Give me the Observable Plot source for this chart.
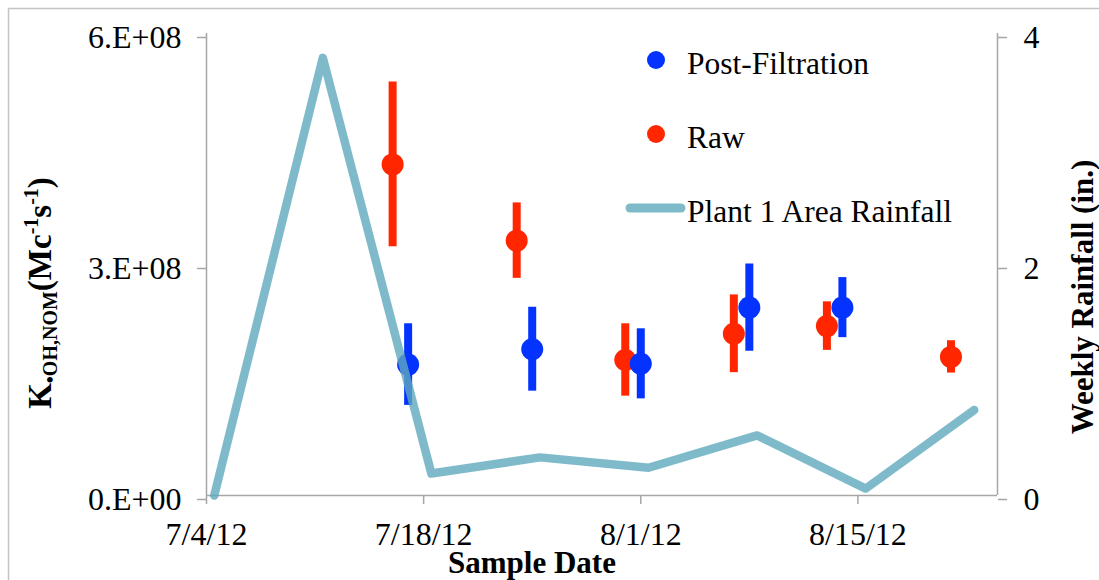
<!DOCTYPE html>
<html>
<head>
<meta charset="utf-8">
<script src="https://cdn.jsdelivr.net/npm/d3@7"></script>
<script src="https://cdn.jsdelivr.net/npm/@observablehq/plot@0.6"></script>
<style>
  html, body { margin: 0; padding: 0; background: #fff; overflow: hidden; }
  #chart { position: relative; width: 1099px; height: 580px; }
</style>
</head>
<body>
<div id="chart"></div>
<script>
const day = (m, d) => new Date(Date.UTC(2012, m - 1, d));

// Raw water samples: K(OH,NOM) and ± error
const rawDates = [day(7, 16), day(7, 24), day(7, 31), day(8, 7), day(8, 13), day(8, 21)];
const rawK     = [4.30e8, 3.31e8, 1.76e8, 2.10e8, 2.20e8, 1.80e8];
const rawErr   = [1.07e8, 0.49e8, 0.47e8, 0.505e8, 0.315e8, 0.21e8];

// Post-filtration samples
const postDates = [day(7, 17), day(7, 25), day(8, 1), day(8, 8), day(8, 14)];
const postK     = [1.70e8, 1.90e8, 1.71e8, 2.44e8, 2.44e8];
const postErr   = [0.53e8, 0.545e8, 0.455e8, 0.565e8, 0.39e8];

// Weekly rainfall around Plant 1 (inches)
const rainDates  = [day(7, 4), day(7, 11), day(7, 18), day(7, 25), day(8, 1), day(8, 8), day(8, 15), day(8, 22)];
const rainInches = [0, 3.79, 0.19, 0.33, 0.24, 0.52, 0.06, 0.74];

// Axis ticks and labels
const xTicks      = [day(7, 4), day(7, 18), day(8, 1), day(8, 15)];
const xTickLabels = ["7/4/12", "7/18/12", "8/1/12", "8/15/12"];
const kTicks      = [0, 3e8, 6e8];
const kTickLabels = ["0.E+00", "3.E+08", "6.E+08"];
const rainTicks   = [0, 2, 4];

const xDomain = [day(7, 4), day(8, 24)];
const kDomain = [0, 6e8];
const RAIN_TO_K = kDomain[1] / rainTicks[rainTicks.length - 1]; // 4 in. ↔ 6e8

const RED = "#ff2600", BLUE = "#0433ff", RAIN = "#5fa9be", AXIS = "#a6a6a6";

const raw  = rawDates.map((date, i) => ({date, k: rawK[i], err: rawErr[i]}));
const post = postDates.map((date, i) => ({date, k: postK[i], err: postErr[i]}));
const rain = rainDates.map((date, i) => ({date, inches: rainInches[i]}));

const xLabel = new Map(xTicks.map((d, i) => [+d, xTickLabels[i]]));
const kLabel = new Map(kTicks.map((d, i) => [d, kTickLabels[i]]));

// weekly totals sit mid-day on the date axis
const midDay = d => new Date(+d.date + 12 * 3600e3);

const chart = Plot.plot({
  width: 1099,
  height: 580,
  marginLeft: 206,
  marginRight: 102,
  marginTop: 33,
  marginBottom: 85,
  style: {fontFamily: "'Liberation Serif', 'Times New Roman', serif", fontSize: "32px", color: "#000", background: "#fff", overflow: "visible"},
  x: {type: "utc", domain: xDomain},
  y: {domain: kDomain},
  marks: [
    // axis lines
    Plot.ruleY([0], {stroke: AXIS, strokeWidth: 1.5}),
    Plot.ruleX([xDomain[0]], {y1: kDomain[0], y2: kDomain[1], stroke: AXIS, strokeWidth: 1.5}),
    Plot.ruleX([xDomain[1]], {y1: kDomain[0], y2: kDomain[1], stroke: AXIS, strokeWidth: 1.5}),
    Plot.axisX(xTicks, {anchor: "bottom", tickFormat: d => xLabel.get(+d), tickSize: 9, tickPadding: 18, stroke: AXIS, strokeWidth: 1.5, fill: "#000", label: null}),
    Plot.axisY(kTicks, {anchor: "left", tickFormat: d => kLabel.get(d), tickSize: 9, tickPadding: 16, dy: 4, stroke: AXIS, strokeWidth: 1.5, fill: "#000", label: null}),
    Plot.axisY(rainTicks.map(r => r * RAIN_TO_K), {anchor: "right", tickFormat: d => String(Math.round(d / RAIN_TO_K)), tickSize: 9, tickPadding: 17, dy: 4, stroke: AXIS, strokeWidth: 1.5, fill: "#000", label: null}),

    // error bars and sample means
    Plot.ruleX(raw, {x: "date", y1: d => d.k - d.err, y2: d => d.k + d.err, stroke: RED, strokeWidth: 8}),
    Plot.dot(raw, {x: "date", y: "k", r: 11, fill: RED, ariaLabel: "raw-dot"}),
    Plot.ruleX(post, {x: "date", y1: d => d.k - d.err, y2: d => d.k + d.err, stroke: BLUE, strokeWidth: 8}),
    Plot.dot(post, {x: "date", y: "k", r: 11, fill: BLUE, ariaLabel: "post-dot"}),

    // rainfall on the secondary axis
    Plot.line(rain, {x: midDay, y: d => d.inches * RAIN_TO_K, stroke: RAIN, strokeWidth: 8.5, strokeOpacity: 0.8, strokeLinejoin: "round", strokeLinecap: "round"})
  ]
});

document.getElementById("chart").append(chart);

const svg = d3.select(chart);
svg.selectAll('g[aria-label="raw-dot"], g[aria-label="post-dot"]')
  .style("filter", "drop-shadow(2px 3px 2px rgba(0,0,0,0.35))");

// outer chart border
svg.insert("rect", ":first-child")
  .attr("x", 8.5).attr("y", 8.5).attr("width", 1200).attr("height", 1000)
  .attr("fill", "none").attr("stroke", "#c4c4c4").attr("stroke-width", 1.5);

// axis titles
const bold = sel => sel.attr("font-weight", "bold").attr("font-size", 31).attr("fill", "#000");

svg.append("text").call(bold)
  .attr("x", 532).attr("y", 573).attr("text-anchor", "middle")
  .text("Sample Date");

svg.append("text").call(bold)
  .attr("transform", "translate(1093,297) rotate(-90)").attr("text-anchor", "middle")
  .text("Weekly Rainfall (in.)");

const kTitle = svg.append("text").call(bold).attr("font-size", 33)
  .attr("transform", "translate(51,293) rotate(-90)").attr("text-anchor", "middle");
kTitle.append("tspan").text("K");
kTitle.append("tspan").attr("font-size", 20).attr("dy", 6).text("•OH,NOM");
kTitle.append("tspan").attr("dy", -6).text("(Mc");
kTitle.append("tspan").attr("font-size", 20).attr("dy", -13).text("-1");
kTitle.append("tspan").attr("dy", 13).text("s");
kTitle.append("tspan").attr("font-size", 20).attr("dy", -13).text("-1");
kTitle.append("tspan").attr("dy", 13).text(")");

// legend
const legend = svg.append("g").attr("font-size", 31.5).attr("fill", "#000").attr("text-anchor", "start");
legend.append("circle").attr("cx", 656).attr("cy", 60).attr("r", 9).attr("fill", BLUE);
legend.append("text").attr("x", 687).attr("y", 74).text("Post-Filtration");
legend.append("circle").attr("cx", 656).attr("cy", 134).attr("r", 9).attr("fill", RED);
legend.append("text").attr("x", 687).attr("y", 148).text("Raw");
legend.append("line").attr("x1", 630).attr("x2", 681).attr("y1", 208).attr("y2", 208)
  .attr("stroke", RAIN).attr("stroke-opacity", 0.8).attr("stroke-width", 9).attr("stroke-linecap", "round");
legend.append("text").attr("x", 687).attr("y", 222).text("Plant 1 Area Rainfall");
</script>
</body>
</html>
